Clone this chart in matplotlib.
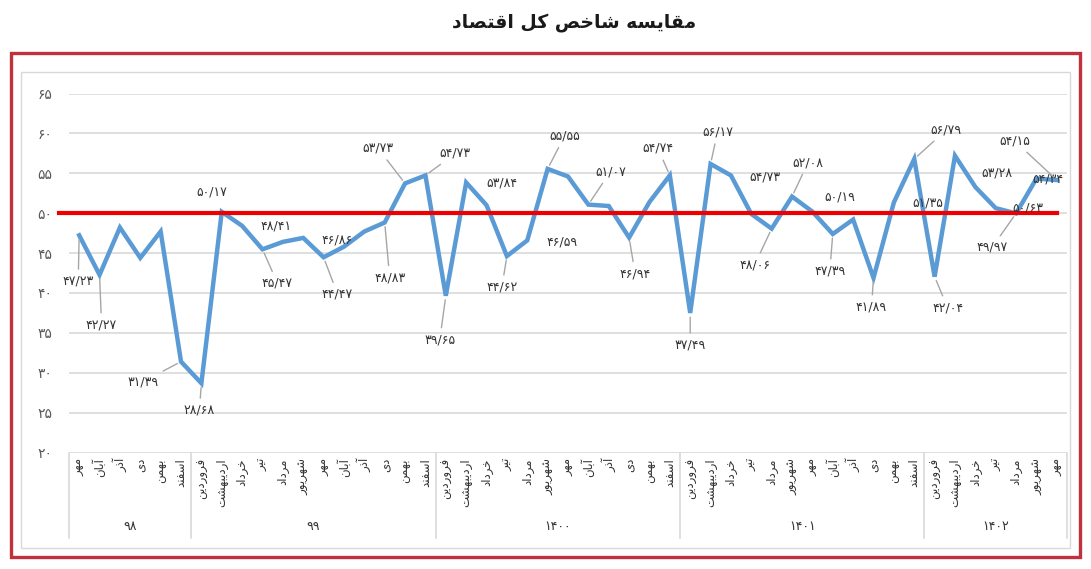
import numpy as np
import matplotlib
matplotlib.use("Agg")
import matplotlib.pyplot as plt
from matplotlib.patches import Rectangle
from matplotlib.lines import Line2D
from matplotlib.transforms import blended_transform_factory

plt.rcParams['font.family'] = ['DejaVu Sans']

# ---- data ----
title = "مقایسه شاخص کل اقتصاد"
years = ["۹۸", "۹۹", "۱۴۰۰", "۱۴۰۱", "۱۴۰۲"]
months_full = ["فروردین", "اردیبهشت", "خرداد", "تیر", "مرداد", "شهریور",
               "مهر", "آبان", "آذر", "دی", "بهمن", "اسفند"]
months_98 = months_full[6:]
months_1402 = months_full[:7]

vals_98 = [47.23, 42.27, 48.2, 44.4, 47.7, 31.39]
vals_99 = [28.68, 50.17, 48.41, 45.47, 46.4, 46.9, 44.47, 45.8, 47.7, 48.83, 53.73, 54.73]
vals_1400 = [39.65, 53.84, 51.0, 44.62, 46.59, 55.55, 54.6, 51.07, 50.9, 46.94, 51.4, 54.74]
vals_1401 = [37.49, 56.17, 54.73, 49.9, 48.06, 52.08, 50.19, 47.39, 49.2, 41.89, 51.35, 56.79]
vals_1402 = [42.04, 57.2, 53.28, 50.63, 49.97, 54.34, 54.15]

threshold = 50
y_ticks = [20, 25, 30, 35, 40, 45, 50, 55, 60, 65]

# data labels as printed on the chart: point index -> text
label_idx = [0, 1, 5, 6, 7, 8, 9, 12, 13, 15, 16, 17, 18, 19, 21, 22, 23, 25, 27, 29,
             30, 31, 32, 34, 35, 36, 37, 39, 40, 41, 42, 44, 45, 46, 47, 48]
label_txt = ["۴۷/۲۳", "۴۲/۲۷", "۳۱/۳۹", "۲۸/۶۸", "۵۰/۱۷", "۴۸/۴۱", "۴۵/۴۷", "۴۴/۴۷",
             "۴۶/۸۶", "۴۸/۸۳", "۵۳/۷۳", "۵۴/۷۳", "۳۹/۶۵", "۵۳/۸۴", "۴۴/۶۲", "۴۶/۵۹",
             "۵۵/۵۵", "۵۱/۰۷", "۴۶/۹۴", "۵۴/۷۴", "۳۷/۴۹", "۵۶/۱۷", "۵۴/۷۳", "۴۸/۰۶",
             "۵۲/۰۸", "۵۰/۱۹", "۴۷/۳۹", "۴۱/۸۹", "۵۱/۳۵", "۵۶/۷۹", "۴۲/۰۴", "۵۳/۲۸",
             "۵۰/۶۳", "۴۹/۹۷", "۵۴/۳۴", "۵۴/۱۵"]

# label placement (pixel offsets from the point) and whether a leader line is drawn
label_pos = [(-1, -46, 1), (2, -50, 1), (-38, -20, 1), (-2, -27, 1), (-10, 20, 0),
             (34, 0, 0), (15, -34, 1), (14, -37, 1), (-7, 7, 0), (5, -55, 1),
             (-27, 35, 1), (30, 22, 1), (-6, -44, 1), (36, 0, 0), (-5, -31, 1),
             (35, -2, 0), (17, 33, 1), (22, 33, 1), (6, -36, 1), (-12, 27, 1),
             (0, -32, 1), (7, 32, 1), (34, -2, 0), (-17, -36, 1), (16, 34, 1),
             (27, 15, 0), (-3, -37, 1), (-2, -29, 1), (34, -1, 0), (32, 29, 1),
             (13, -31, 1), (22, 14, 0), (32, 0, 0), (-24, -34, 1), (11, 0, 0),
             (-42, 39, 1)]

# ---- minimal Persian shaping (matplotlib has no RTL / joining support) ----
DUAL = {'ب': 0xFE8F, 'ت': 0xFE95, 'ث': 0xFE99, 'ج': 0xFE9D, 'ح': 0xFEA1, 'خ': 0xFEA5,
        'س': 0xFEB1, 'ش': 0xFEB5, 'ص': 0xFEB9, 'ض': 0xFEBD, 'ط': 0xFEC1, 'ظ': 0xFEC5,
        'ع': 0xFEC9, 'غ': 0xFECD, 'ف': 0xFED1, 'ق': 0xFED5, 'ل': 0xFEDD, 'م': 0xFEE1,
        'ن': 0xFEE5, 'ه': 0xFEE9, 'ی': 0xFBFC, 'ک': 0xFB8E}
RIGHT = {'ا': 0xFE8D, 'آ': 0xFE81, 'د': 0xFEA9, 'ذ': 0xFEAB, 'ر': 0xFEAD, 'ز': 0xFEAF,
         'و': 0xFEED}


def fa(text):
    out = []
    for i, ch in enumerate(text):
        prev = text[i - 1] if i > 0 else ''
        nxt = text[i + 1] if i + 1 < len(text) else ''
        jp = prev in DUAL
        jn = ch in DUAL and (nxt in DUAL or nxt in RIGHT)
        if ch in DUAL:
            form = 3 if (jp and jn) else 1 if jp else 2 if jn else 0
            out.append(chr(DUAL[ch] + form))
        elif ch in RIGHT:
            out.append(chr(RIGHT[ch] + (1 if jp else 0)))
        else:
            out.append(ch)
    return ''.join(reversed(out))


def fa_digits(n):
    return str(n).translate(str.maketrans("0123456789", "۰۱۲۳۴۵۶۷۸۹"))


groups = [months_98, months_full, months_full, months_full, months_1402]
values = vals_98 + vals_99 + vals_1400 + vals_1401 + vals_1402
months = [m for g in groups for m in g]
x = np.arange(len(values))

W, H = 1091, 569
fig = plt.figure(figsize=(W / 100, H / 100), dpi=100)
ax = fig.add_axes([69 / W, 1 - 452.5 / H, (1067 - 69) / W, (452.5 - 93.5) / H])

grey = '#d9d9d9'
txt = '#333333'

ax.plot(x, values, color='#5b9bd5', lw=3.2, solid_joinstyle='miter', zorder=3)
ax.plot([-1, len(values) - 1], [threshold, threshold], color='#ee0000', lw=3.0,
        zorder=4, clip_on=False)

ax.set_xlim(-0.5, len(values) - 0.5)
ax.set_ylim(y_ticks[0], y_ticks[-1])
ax.set_yticks(y_ticks)
ax.set_yticklabels([fa_digits(t) for t in y_ticks], color='#595959', fontsize=10)
ax.set_xticks(x)
ax.set_xticklabels([fa(m) for m in months], rotation=90, fontsize=8.5, color=txt)
ax.tick_params(axis='both', length=0)
ax.tick_params(axis='x', pad=4)
ax.tick_params(axis='y', pad=12)
ax.grid(axis='y', color=grey, lw=1.2)
ax.set_axisbelow(True)
for s in ax.spines.values():
    s.set_visible(False)

# data labels
for k, i in enumerate(label_idx):
    dx, dy, lead = label_pos[k]
    arrow = dict(arrowstyle='-', color='#a6a6a6', lw=1, shrinkA=2, shrinkB=3) if lead else None
    ax.annotate(label_txt[k], xy=(i, values[i]), xytext=(dx, dy), textcoords='offset pixels',
                ha='center', va='center', fontsize=9, color=txt, arrowprops=arrow,
                zorder=5)

# multi-level category axis: year separators and year names
blend = blended_transform_factory(ax.transData, fig.transFigure)
bounds = np.concatenate([[0], np.cumsum([len(g) for g in groups])]) - 0.5
for b in bounds:
    fig.add_artist(Line2D([b, b], [1 - 453 / H, 1 - 538 / H], transform=blend,
                          color=grey, lw=1.2))
for k, yr in enumerate(years):
    mid = (bounds[k] + bounds[k + 1]) / 2
    fig.text(mid, 1 - 527 / H, fa_digits(yr), transform=blend, ha='center', va='center',
             fontsize=9, color=txt)

# frames
fig.add_artist(Rectangle((21 / W, 1 - 548 / H), (1070 - 21) / W, (548 - 72) / H,
                         transform=fig.transFigure, fill=False, edgecolor=grey, lw=1))
fig.add_artist(Rectangle((10.5 / W, 1 - 557 / H), (1079.5 - 10.5) / W, (557 - 53) / H,
                         transform=fig.transFigure, fill=False, edgecolor='#c0313c', lw=2.4))

fig.text(574 / W, 1 - 22 / H, fa(title), ha='center', va='center', fontsize=13.5,
         fontweight='bold', color='#1a1a1a')

fig.savefig('out.png', dpi=100)
